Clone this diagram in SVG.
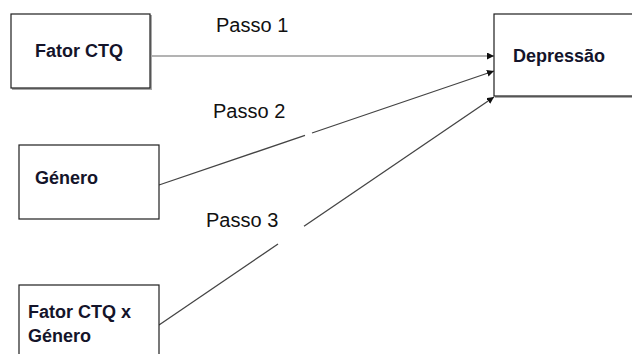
<svg xmlns="http://www.w3.org/2000/svg" width="632" height="354" viewBox="0 0 632 354">
  <style>
    .box { fill: #ffffff; stroke: #1e1e1e; stroke-width: 1.2; }
    .shadow { fill: none; stroke: #a8a8a8; stroke-width: 2; }
    .label { font-family: "Liberation Sans", Arial, sans-serif; font-size: 18px; font-weight: bold; fill: #14142a; }
    .step { font-family: "Liberation Sans", Arial, sans-serif; font-size: 20px; fill: #111111; }
    .link { fill: none; stroke: #444444; stroke-width: 1.3; }
    .link.light { stroke: #9a9a9a; }
  </style>
  <defs>
    <marker id="head" viewBox="0 0 10 10" refX="10" refY="5" markerWidth="7" markerHeight="7" markerUnits="userSpaceOnUse" orient="auto">
      <path d="M0,0 L10,5 L0,10 Z" fill="#111111"/>
    </marker>
  </defs>

  <rect width="632" height="354" fill="#ffffff"/>

  <!-- connectors -->
  <g id="connectors">
    <line class="link light" x1="150" y1="56" x2="494" y2="56" marker-end="url(#head)"/>
    <path class="link" d="M159,185 L305,135.4"/>
    <path class="link" d="M312,133 L494,71" marker-end="url(#head)"/>
    <path class="link" d="M159,325 L278,244"/>
    <path class="link" d="M304,226.3 L494,97" marker-end="url(#head)"/>
  </g>

  <!-- step labels -->
  <g id="steps">
    <text class="step" x="216" y="32">Passo 1</text>
    <text class="step" x="213" y="118">Passo 2</text>
    <text class="step" x="206" y="227">Passo 3</text>
  </g>

  <g id="fator-ctq">
    <polyline class="shadow" points="151,15 151,89 12,89"/>
    <rect class="box" x="11" y="14" width="139" height="74"/>
    <text class="label" x="35" y="57">Fator CTQ</text>
  </g>

  <g id="depressao">
    <polyline class="shadow" points="495,97 640,97"/>
    <rect class="box" x="494" y="14" width="150" height="82"/>
    <text class="label" x="513" y="62">Depressão</text>
  </g>

  <g id="genero">
    <rect class="box" x="19" y="145" width="140" height="74"/>
    <text class="label" x="35" y="184">Género</text>
  </g>

  <g id="fator-ctq-x-genero">
    <rect class="box" x="19" y="285" width="140" height="80"/>
    <text class="label" x="28" y="318">Fator CTQ x</text>
    <text class="label" x="28" y="342">Género</text>
  </g>
</svg>
